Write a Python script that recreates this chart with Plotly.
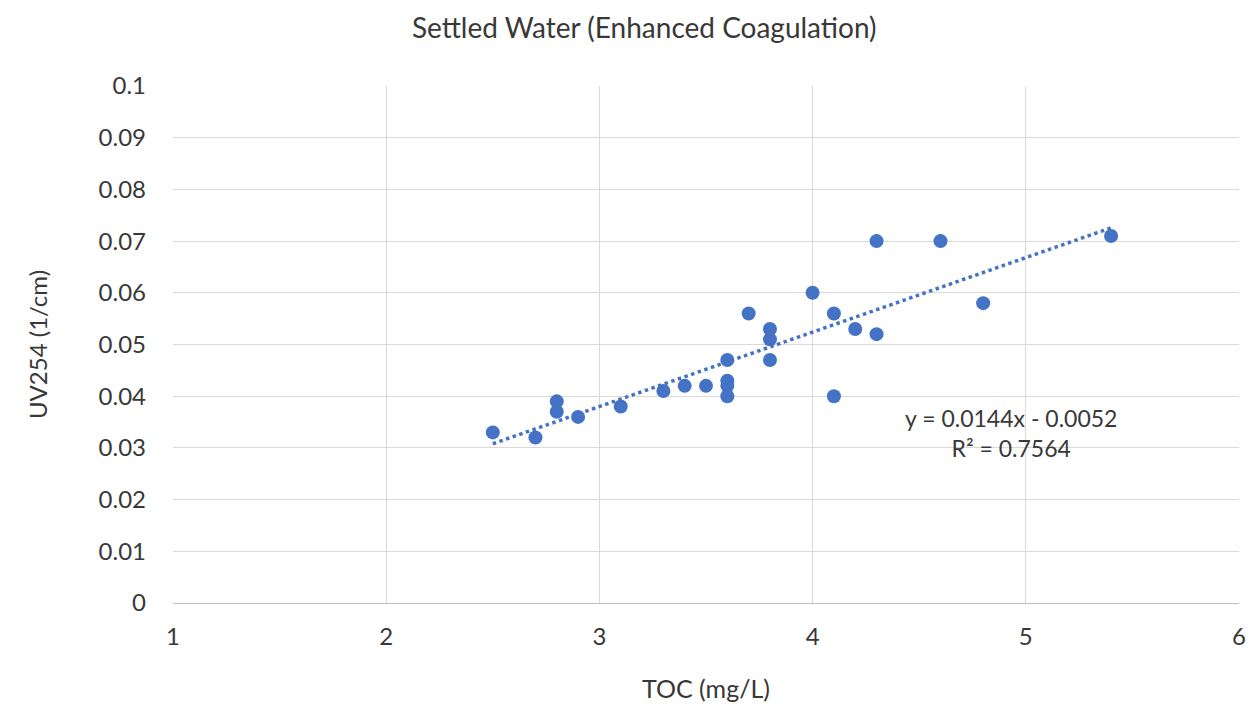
import plotly.graph_objects as go

# TOC (mg/L) vs UV254 (1/cm), settled water
toc = [2.5, 2.7, 2.8, 2.8, 2.9, 3.1, 3.3, 3.4, 3.5, 3.6, 3.6, 3.6, 3.6,
       3.7, 3.8, 3.8, 3.8, 4.0, 4.1, 4.1, 4.2, 4.3, 4.3, 4.6, 4.8, 5.4]
uv254 = [0.033, 0.032, 0.039, 0.037, 0.036, 0.038, 0.041, 0.042, 0.042, 0.047, 0.043, 0.042, 0.040,
         0.056, 0.053, 0.051, 0.047, 0.060, 0.056, 0.040, 0.053, 0.070, 0.052, 0.070, 0.058, 0.071]

# linear trendline as printed on the chart
slope = 0.0144
intercept = -0.0052
r2 = 0.7564
trend_x = [min(toc), max(toc)]
trend_y = [slope * v + intercept for v in trend_x]

blue = "#4472C4"
font = "Lato"
txt = "#383838"

fig = go.Figure()
fig.add_trace(go.Scatter(x=trend_x, y=trend_y, mode="lines",
                         line=dict(color=blue, width=3.5, dash="dot"), showlegend=False))
fig.add_trace(go.Scatter(x=toc, y=uv254, mode="markers",
                         marker=dict(color=blue, size=14), showlegend=False))

fig.add_annotation(x=4.93, y=0.0328, xref="x", yref="y", showarrow=False,
                   text=f"y = {slope}x - {abs(intercept)}<br>R² = {r2}",
                   font=dict(family=font, size=23, color=txt), align="center")

# page has an 8px body margin, so the figure is a little smaller than the window
fig.update_layout(
    width=1250, height=704,
    paper_bgcolor="white", plot_bgcolor="white",
    margin=dict(l=165, r=15, t=78, b=109),
    font=dict(family=font, size=24, color=txt),
    title=dict(text="Settled Water (Enhanced Coagulation)", x=0.509, xanchor="center",
               y=0.972, yanchor="middle", font=dict(family=font, size=28, color=txt)),
    xaxis=dict(range=[1, 6], dtick=1, showgrid=True, gridcolor="#d9d9d9", gridwidth=1,
               zeroline=False, showline=True, linecolor="#bfbfbf", linewidth=1,
               ticks="", ticklabelstandoff=12,
               title=dict(text="TOC (mg/L)", standoff=31, font=dict(size=25))),
    yaxis=dict(range=[0, 0.1], dtick=0.01, showgrid=True, gridcolor="#d9d9d9", gridwidth=1,
               zeroline=False, showline=False, ticks="", ticklabelstandoff=26,
               title=dict(text="UV254 (1/cm)", standoff=44, font=dict(size=24))),
)

fig.write_html("out.html")
